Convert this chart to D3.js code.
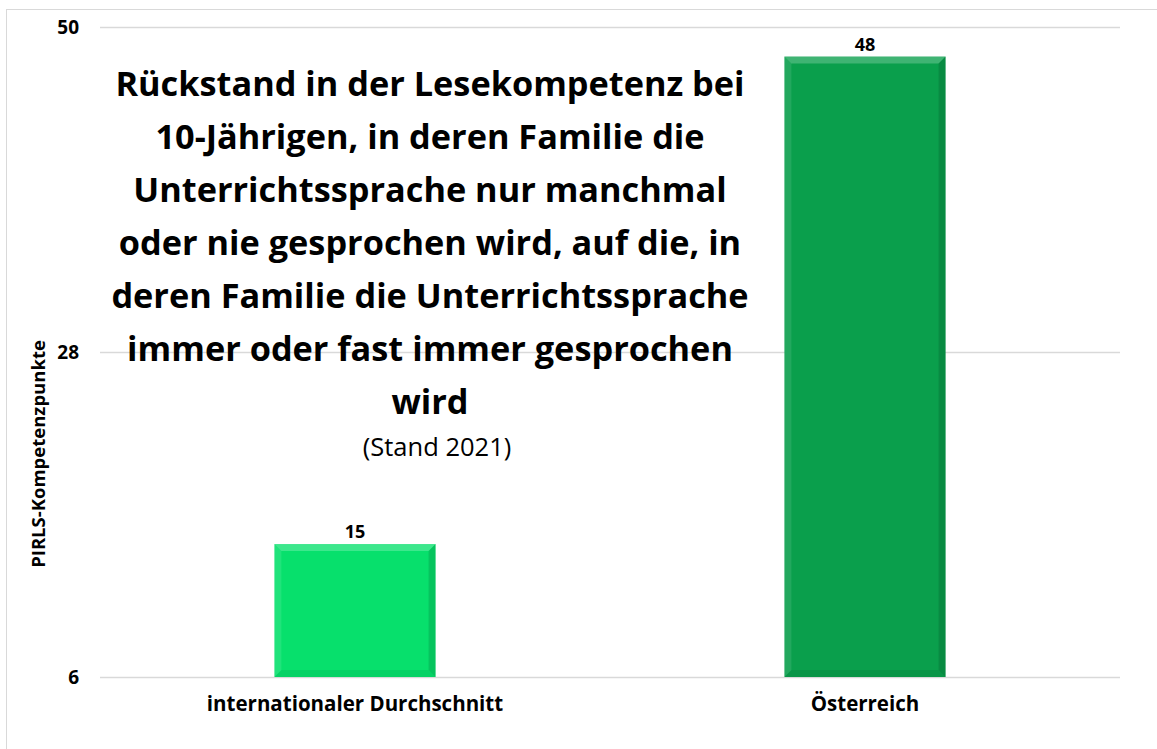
<!DOCTYPE html>
<html>
<head>
<meta charset="utf-8">
<script src="https://cdn.jsdelivr.net/npm/d3@7"></script>
<style>
  body { margin: 0; background: #fff; }
  svg text { font-family: "Open Sans", "Noto Sans", sans-serif; fill: #000; }
</style>
</head>
<body>
<div id="chart"></div>
<script>
const width = 1157;
const height = 749;

// data
const categories = ["internationaler Durchschnitt", "Österreich"];
const values = [15, 48];
const barColors = ["#07e06c", "#0a9f4c"];
const yTicks = [6, 28, 50];
const titleLines = [
  "Rückstand in der Lesekompetenz bei",
  "10-Jährigen, in deren Familie die",
  "Unterrichtssprache nur manchmal",
  "oder nie gesprochen wird, auf die, in",
  "deren Familie die Unterrichtssprache",
  "immer oder fast immer gesprochen",
  "wird"
];
const subtitle = "(Stand 2021)";

const margin = { top: 27, right: 37, bottom: 72, left: 100 };

const svg = d3.select("#chart").append("svg")
  .attr("width", width)
  .attr("height", height);

// outer frame
svg.append("rect")
  .attr("x", 6.5).attr("y", 9.5)
  .attr("width", width + 10).attr("height", height + 10)
  .attr("fill", "none")
  .attr("stroke", "#d9d9d9")
  .attr("stroke-width", 1);

const x = d3.scaleBand()
  .domain(categories)
  .range([margin.left, width - margin.right])
  .paddingInner(0.684)
  .paddingOuter(0.342);

const y = d3.scaleLinear()
  .domain([6, 50])
  .range([height - margin.bottom, margin.top]);

// gridlines
svg.append("g")
  .selectAll("line")
  .data(yTicks)
  .join("line")
  .attr("x1", margin.left)
  .attr("x2", width - margin.right)
  .attr("y1", d => Math.round(y(d)) + 0.5)
  .attr("y2", d => Math.round(y(d)) + 0.5)
  .attr("stroke", "#d9d9d9")
  .attr("stroke-width", 1.5);

// y axis labels
const yAxis = d3.axisLeft(y).tickValues(yTicks).tickSize(0).tickPadding(21);
svg.append("g")
  .attr("transform", `translate(${margin.left},0)`)
  .call(yAxis)
  .call(g => g.select(".domain").remove())
  .call(g => g.selectAll("text")
    .attr("font-family", "'Open Sans', sans-serif")
    .attr("font-size", 19)
    .attr("font-weight", "bold")
    .attr("fill", "#000"));

// axis title
svg.append("text")
  .attr("transform", `translate(45,454) rotate(-90)`)
  .attr("text-anchor", "middle")
  .attr("font-size", 18.5)
  .attr("font-weight", "bold")
  .text("PIRLS-Kompetenzpunkte");

// bars with bevel
const bevel = 7;
const bars = svg.append("g")
  .selectAll("g")
  .data(categories.map((c, i) => ({ c, v: values[i], color: barColors[i] })))
  .join("g");

bars.append("rect")
  .attr("x", d => x(d.c))
  .attr("y", d => y(d.v))
  .attr("width", x.bandwidth())
  .attr("height", d => y(6) - y(d.v))
  .attr("fill", d => d.color);

function bevelPoly(d, side) {
  const x0 = x(d.c), x1 = x(d.c) + x.bandwidth();
  const y0 = y(d.v), y1 = y(6);
  const b = bevel;
  if (side === "top") return [[x0, y0], [x1, y0], [x1 - b, y0 + b], [x0 + b, y0 + b]];
  if (side === "left") return [[x0, y0], [x0 + b, y0 + b], [x0 + b, y1 - b], [x0, y1]];
  if (side === "right") return [[x1, y0], [x1, y1], [x1 - b, y1 - b], [x1 - b, y0 + b]];
  return [[x0, y1], [x0 + b, y1 - b], [x1 - b, y1 - b], [x1, y1]];
}
const bevelStyle = {
  top: ["#ffffff", 0.22],
  left: ["#ffffff", 0.1],
  right: ["#000000", 0.12],
  bottom: ["#000000", 0.06]
};
Object.keys(bevelStyle).forEach(side => {
  bars.append("polygon")
    .attr("points", d => bevelPoly(d, side).map(p => p.join(",")).join(" "))
    .attr("fill", bevelStyle[side][0])
    .attr("fill-opacity", bevelStyle[side][1]);
});

// value labels
bars.append("text")
  .attr("x", d => x(d.c) + x.bandwidth() / 2)
  .attr("y", d => y(d.v) - 6)
  .attr("text-anchor", "middle")
  .attr("font-size", 18)
  .attr("font-weight", "bold")
  .text(d => d.v);

// category labels
svg.append("g")
  .selectAll("text")
  .data(categories)
  .join("text")
  .attr("x", d => x(d) + x.bandwidth() / 2)
  .attr("y", 711)
  .attr("text-anchor", "middle")
  .attr("font-size", 20.5)
  .attr("font-weight", "bold")
  .text(d => d);

// title
const titleX = 430;
svg.append("g")
  .selectAll("text")
  .data(titleLines)
  .join("text")
  .attr("x", titleX)
  .attr("y", (d, i) => 96 + i * 53)
  .attr("text-anchor", "middle")
  .attr("font-size", 34.3)
  .attr("font-weight", "bold")
  .text(d => d);

svg.append("text")
  .attr("x", titleX + 7)
  .attr("y", 456)
  .attr("text-anchor", "middle")
  .attr("font-size", 25.5)
  .text(subtitle);
</script>
</body>
</html>
